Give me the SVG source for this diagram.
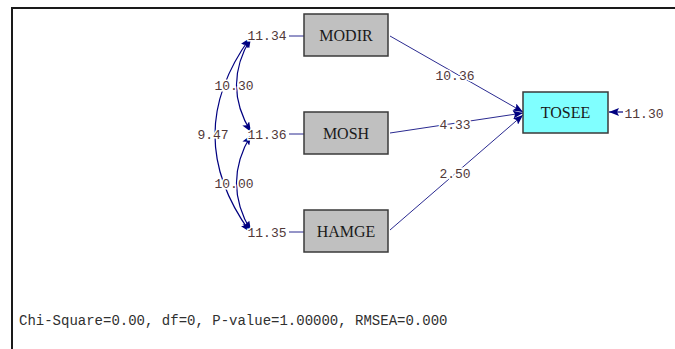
<svg xmlns="http://www.w3.org/2000/svg" width="675" height="349" viewBox="0 0 675 349">
<defs>
<marker id="ah" viewBox="0 0 10 8" refX="10" refY="4" markerWidth="10" markerHeight="8" markerUnits="userSpaceOnUse" orient="auto-start-reverse">
<path d="M0,0 L10,4 L0,8 L2,4 Z" fill="#000080"/>
</marker>
</defs>
<style>
.box{fill:#c0c0c0;stroke:#3a3a3a;stroke-width:1.5}
.tgt{fill:#80ffff;stroke:#3a3a3a;stroke-width:1.5}
.nm{font-family:"Liberation Serif",serif;font-size:16px;fill:#1a1a1a;text-anchor:middle}
.lb{font-family:"Liberation Mono",monospace;font-size:13px;fill:#503838;text-anchor:middle;paint-order:stroke;stroke:#fff;stroke-width:3px}
.ln{fill:none;stroke:#2a2a90;stroke-width:1}
.cv{fill:none;stroke:#000080;stroke-width:1.2}
</style>
<rect width="675" height="349" fill="#fff"/>
<path d="M12,349 V8 H675" fill="none" stroke="#1a1a1a" stroke-width="2"/>
<g id="connectors">
<path class="cv" d="M250,38 Q180,135 250,232" marker-start="url(#ah)" marker-end="url(#ah)"/>
<path class="cv" d="M251,38 Q222,85 251,132" marker-start="url(#ah)" marker-end="url(#ah)"/>
<path class="cv" d="M251,135 Q222,183 251,231" marker-start="url(#ah)" marker-end="url(#ah)"/>
<line class="ln" x1="289" y1="36" x2="304" y2="36"/>
<line class="ln" x1="289" y1="134" x2="304" y2="134"/>
<line class="ln" x1="289" y1="232" x2="304" y2="232"/>
<line class="ln" x1="390" y1="36" x2="523" y2="112" marker-end="url(#ah)"/>
<line class="ln" x1="390" y1="133" x2="523" y2="113" marker-end="url(#ah)"/>
<line class="ln" x1="390" y1="230" x2="523" y2="115" marker-end="url(#ah)"/>
<line class="cv" x1="623" y1="112" x2="609" y2="112" marker-end="url(#ah)"/>
<text class="lb" x="267" y="40">11.34</text>
<text class="lb" x="267" y="139">11.36</text>
<text class="lb" x="267" y="237">11.35</text>
<text class="lb" x="234" y="90">10.30</text>
<text class="lb" x="213" y="139">9.47</text>
<text class="lb" x="234" y="188">10.00</text>
<text class="lb" x="455" y="80">10.36</text>
<text class="lb" x="455" y="129">4.33</text>
<text class="lb" x="455" y="178">2.50</text>
<text class="lb" x="644" y="118">11.30</text>
</g>
<g id="MODIR"><rect class="box" x="304" y="14" width="84" height="42"/><text class="nm" x="346" y="41">MODIR</text></g>
<g id="MOSH"><rect class="box" x="304" y="112" width="84" height="42"/><text class="nm" x="346" y="139">MOSH</text></g>
<g id="HAMGE"><rect class="box" x="304" y="210" width="84" height="42"/><text class="nm" x="346" y="237">HAMGE</text></g>
<g id="TOSEE"><rect class="tgt" x="523" y="92" width="85" height="41"/><text class="nm" x="565.5" y="118">TOSEE</text></g>
<text x="19" y="325" font-family="'Liberation Mono',monospace" font-size="14" fill="#303030">Chi-Square=0.00, df=0, P-value=1.00000, RMSEA=0.000</text>
</svg>
